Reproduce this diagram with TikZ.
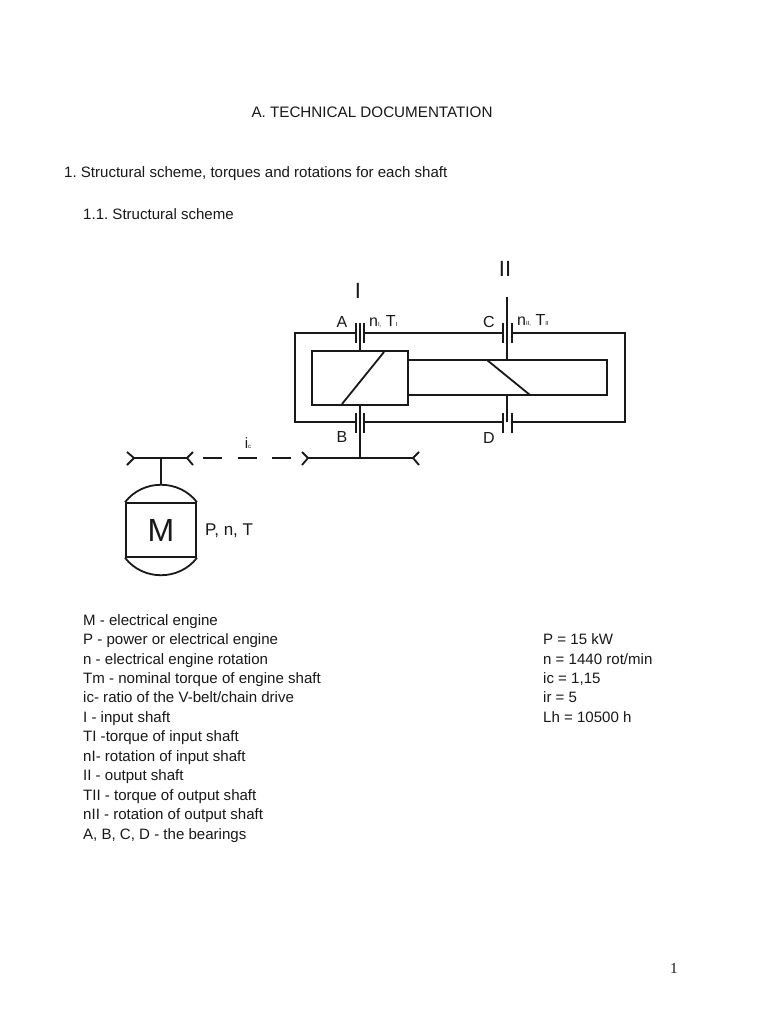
\documentclass[tikz,border=0pt]{standalone}
\usepackage{fontspec}
\setmainfont{Liberation Sans}
\newfontfamily\pagefont{Liberation Serif}
\usepackage{xcolor}
\definecolor{InkGray}{RGB}{25,25,25}
\newcommand{\tinysub}[1]{\raisebox{-0.3pt}{\fontsize{6}{6}\selectfont #1}}
\frenchspacing
\tikzset{
  txt/.style={anchor=base west, inner sep=0pt, font=\fontsize{15.05}{17}\selectfont, text=InkGray},
  lab/.style={anchor=base, inner sep=0pt, font=\fontsize{17}{20}\selectfont, text=InkGray},
  heavyline/.style={line width=2.2pt, draw=InkGray},
  thinline/.style={line width=1.8pt, draw=InkGray},
  beltdash/.style={line width=1.6pt, draw=InkGray, dash pattern=on 19pt off 15.5pt},
}
\begin{document}
\begin{tikzpicture}[x=1pt, y=-1pt]
    \useasboundingbox[fill=white] (0,0) rectangle (768,1024);
    % headings
    \node[txt, anchor=base, font=\fontsize{15.2}{17}\selectfont] (title) at (372,118) {A. TECHNICAL DOCUMENTATION};
    \node[txt] (sec) at (64,178) {1. Structural scheme, torques and rotations for each shaft};
    \node[txt] (subsec) at (83,219) {1.1. Structural scheme};
    % housing
    \draw[heavyline] (356,333) -- (295,333) -- (295,422) -- (356,422);
    \draw[heavyline] (364,333) -- (503,333);
    \draw[heavyline] (512,333) -- (625,333) -- (625,422) -- (512,422);
    \draw[heavyline] (364,422) -- (503,422);
    % gear and pinion
    \node[thinline, draw, minimum width=96pt, minimum height=54pt, inner sep=0pt] (pinion) at (360,378) {};
    \draw[thinline] (408,360) -- (607,360) -- (607,395) -- (408,395);
    \draw[thinline] (342,404) -- (384,352);
    \draw[thinline] (487,360) -- (530,395);
    % shafts
    \coordinate (topI) at (360,323);
    \coordinate (topII) at (507,297);
    \coordinate (beltI) at (360,458);
    \draw[thinline] (topI) -- (pinion.north -| topI);
    \draw[thinline] (pinion.south -| topI) -- (beltI);
    \draw[thinline] (topII) -- (507,360);
    \draw[thinline] (507,395) -- (507,422);
    % bearings
    \foreach \xa/\xb/\ya in {356/364/323, 356/364/413, 503/512/323, 503/512/413} {
      \draw[heavyline] (\xa,\ya) -- (\xa,\ya+20);
      \draw[heavyline] (\xb,\ya) -- (\xb,\ya+20);
    }
    % belt drive
    \draw[thinline] (134,458) -- (187,458);
    \draw[thinline] (127,452) -- (134,458) -- (127,465);
    \draw[thinline] (193,452) -- (187,458) -- (193,465);
    \draw[beltdash] (203,458) -- (292,458);
    \draw[thinline] (308,458) -- (beltI) -- (413,458);
    \draw[thinline] (302,452) -- (308,458) -- (302,465);
    \draw[thinline] (419,452) -- (413,458) -- (419,465);
    % motor
    \node[thinline, draw, minimum width=70pt, minimum height=54pt, inner sep=0pt, font=\fontsize{32}{34}\selectfont, text=InkGray] (motor) at (161,530) {M};
    \draw[thinline] (motor.north west) .. controls (143,479) and (179,479) .. (motor.north east);
    \draw[thinline] (motor.south west) .. controls (143,581) and (179,581) .. (motor.south east);
    \draw[thinline] (161,458) -- (161,485);
    % labels
    \node[lab, font=\fontsize{22}{24}\selectfont] (shaftI) at (358,298) {I};
    \node[lab, font=\fontsize{22}{24}\selectfont] (shaftII) at (505,276) {II};
    \node[lab, font=\fontsize{16}{18}\selectfont] (brgA) at (342,327) {A};
    \node[lab, font=\fontsize{16}{18}\selectfont] (brgB) at (342,442) {B};
    \node[lab, font=\fontsize{16}{18}\selectfont] (brgC) at (489,327) {C};
    \node[lab, font=\fontsize{16}{18}\selectfont] (brgD) at (489,443) {D};
    \node[lab, anchor=base west, font=\fontsize{16}{18}\selectfont] (loadI) at (369,326) {n\tinysub{I,} T\tinysub{I}};
    \node[lab, anchor=base west, font=\fontsize{16}{18}\selectfont] (loadII) at (517,325) {n\tinysub{II,} T\tinysub{II}};
    \node[lab, font=\fontsize{15}{17}\selectfont] (ratio) at (248,448) {i\tinysub{c}};
    \node[lab, anchor=base west] (motorload) at (205,535) {P, n, T};
    % legend
    \foreach \n/\t/\y in {
      a/M - electrical engine/625, b/P - power or electrical engine/644,
      c/n - electrical engine rotation/664, d/Tm - nominal torque of engine shaft/683,
      e/ic- ratio of the V-belt\slash chain drive/702, f/I - input shaft/722,
      g/TI -torque of input shaft/741, h/nI- rotation of input shaft/761,
      i/II - output shaft/780, j/TII - torque of output shaft/800,
      k/nII - rotation of output shaft/819, l/{A, B, C, D - the bearings}/839} {
      \node[txt] (leg\n) at (83,\y) {\t};
    }
    \foreach \n/\t/\y in {
      a/P = 15 kW/644, b/n = 1440 rot\slash min/664, c/{ic = 1,15}/683,
      d/ir = 5/702, e/Lh = 10500 h/722} {
      \node[txt] (val\n) at (543,\y) {\t};
    }
    \node[txt, font=\pagefont\fontsize{15.2}{17}\selectfont] (pagenum) at (670,973) {1};
  \end{tikzpicture}
\end{document}
